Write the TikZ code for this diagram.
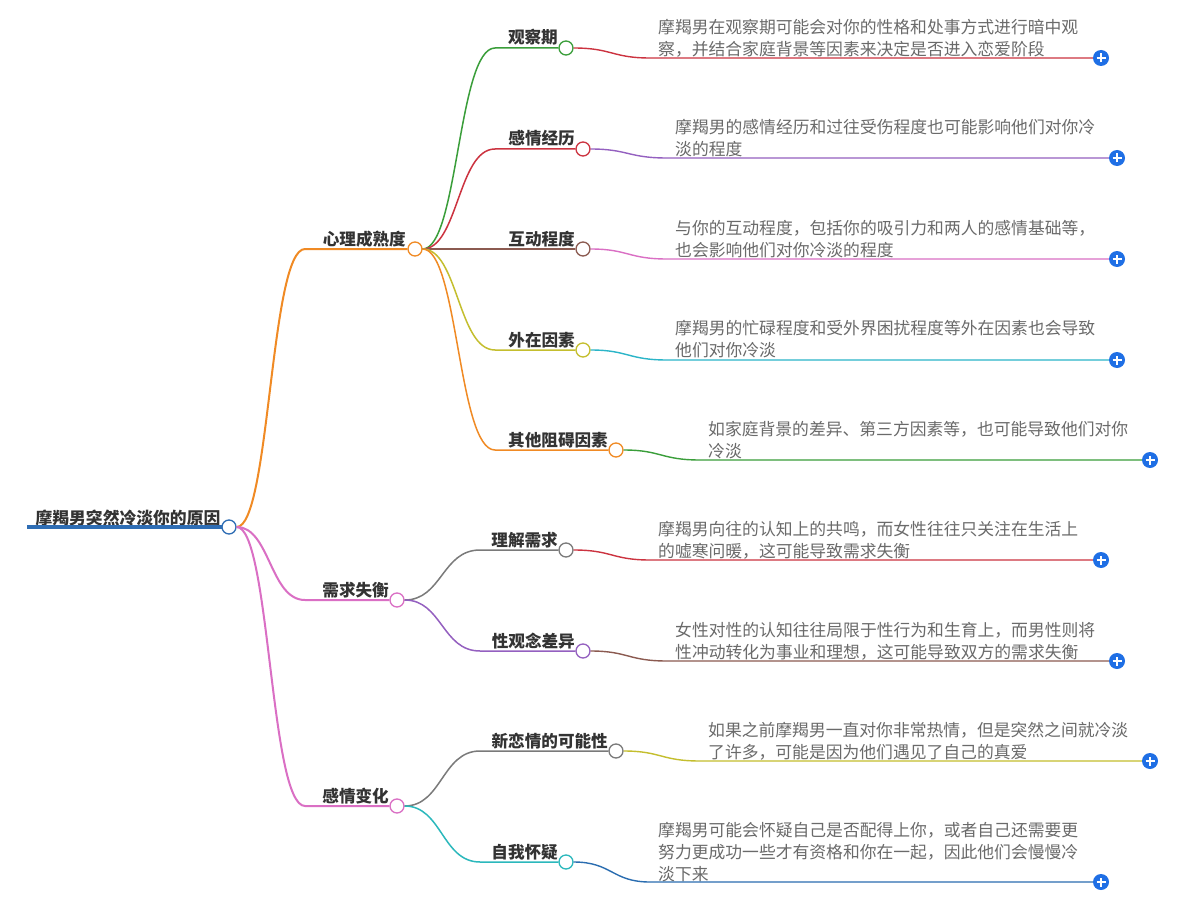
\documentclass[tikz,border=0pt]{standalone}
\usepackage{fontspec}
\newfontfamily\cjk{Noto Sans CJK SC}
\definecolor{orangec}{HTML}{F08A24}
\definecolor{pinkc}{HTML}{DA6FC4}
\definecolor{greenc}{HTML}{3A9E3A}
\definecolor{redc}{HTML}{CC3340}
\definecolor{brownc}{HTML}{8B5A50}
\definecolor{olivec}{HTML}{C4BE2E}
\definecolor{purplec}{HTML}{9460C0}
\definecolor{cyanc}{HTML}{2BB5C8}
\definecolor{grayc}{HTML}{7A7A7A}
\definecolor{tealc}{HTML}{2BB8BC}
\definecolor{dbluec}{HTML}{2A6DB0}
\definecolor{rootc}{HTML}{2E6DB4}
\definecolor{plusc}{HTML}{1F6FE5}
\definecolor{labelc}{HTML}{333333}
\definecolor{leafc}{HTML}{6A6A6A}
\begin{document}
\begin{tikzpicture}[x=1pt,y=-1pt,
  lbl/.style={font=\cjk\bfseries\fontsize{16.6}{20}\selectfont, text=labelc, inner sep=0, anchor=base east},
  leaf/.style={font=\cjk\fontsize{16.8}{22}\selectfont, text=leafc, inner sep=0, anchor=west, align=left},
  dot/.style={circle, fill=white, line width=1.3pt, minimum size=14pt, inner sep=0},
  plusn/.style={circle, fill=plusc, minimum size=16pt, inner sep=0,
    path picture={\draw[white, line width=1.6pt]
      ([xshift=-4.5pt]path picture bounding box.center) -- ([xshift=4.5pt]path picture bounding box.center)
      ([yshift=-4.5pt]path picture bounding box.center) -- ([yshift=4.5pt]path picture bounding box.center);}},
  l1/.style={line width=2pt},
  l2/.style={line width=1.5pt},
  l3/.style={line width=1.4pt}
]
\fill[white] (0,0) rectangle (1194,915);
\useasboundingbox (0,0) rectangle (1194,915);

% root
\coordinate (rootL) at (27,527);
\node[font=\cjk\bfseries\fontsize{16.8}{20}\selectfont, text=labelc, inner sep=0] (root) at (128,518) {摩羯男突然冷淡你的原因};
\draw[rootc, line width=3.5pt] (rootL) -- (222,527);

% level 1 circles
\node[dot, draw=orangec] (a) at (415,249) {};
\node[dot, draw=pinkc] (b) at (397,600) {};
\node[dot, draw=pinkc] (c) at (397,806) {};
\node[lbl] (aT) at (406,245) {心理成熟度};
\node[lbl] (bT) at (389,596) {需求失衡};
\node[lbl] (cT) at (389,802) {感情变化};

% level 2 circles
\node[dot, draw=greenc] (a1) at (566,48) {};
\node[dot, draw=redc] (a2) at (583,149) {};
\node[dot, draw=brownc] (a3) at (583,249) {};
\node[dot, draw=olivec] (a4) at (583,350) {};
\node[dot, draw=orangec] (a5) at (616,450) {};
\node[dot, draw=grayc] (b1) at (566,550) {};
\node[dot, draw=purplec] (b2) at (583,651) {};
\node[dot, draw=grayc] (c1) at (616,751) {};
\node[dot, draw=tealc] (c2) at (566,862) {};

\node[lbl] (a1T) at (558,44) {观察期};
\node[lbl] (a2T) at (575,145) {感情经历};
\node[lbl] (a3T) at (575,245) {互动程度};
\node[lbl] (a4T) at (575,346) {外在因素};
\node[lbl] (a5T) at (608,446) {其他阻碍因素};
\node[lbl] (b1T) at (558,546) {理解需求};
\node[lbl] (b2T) at (575,647) {性观念差异};
\node[lbl] (c1T) at (608,747) {新恋情的可能性};
\node[lbl] (c2T) at (558,858) {自我怀疑};

% plus icons
\node[plusn] (p1) at (1101,58) {};
\node[plusn] (p2) at (1117,158) {};
\node[plusn] (p3) at (1117,259) {};
\node[plusn] (p4) at (1117,360) {};
\node[plusn] (p5) at (1150,460) {};
\node[plusn] (p6) at (1101,560) {};
\node[plusn] (p7) at (1117,661) {};
\node[plusn] (p8) at (1150,761) {};
\node[plusn] (p9) at (1101,882) {};

% leaf texts
\node[leaf] (t1) at (658,38) {摩羯男在观察期可能会对你的性格和处事方式进行暗中观\\察，并结合家庭背景等因素来决定是否进入恋爱阶段};
\node[leaf] (t2) at (675,138.5) {摩羯男的感情经历和过往受伤程度也可能影响他们对你冷\\淡的程度};
\node[leaf] (t3) at (675,239.5) {与你的互动程度，包括你的吸引力和两人的感情基础等，\\也会影响他们对你冷淡的程度};
\node[leaf] (t4) at (675,339.5) {摩羯男的忙碌程度和受外界困扰程度等外在因素也会导致\\他们对你冷淡};
\node[leaf] (t5) at (708,440) {如家庭背景的差异、第三方因素等，也可能导致他们对你\\冷淡};
\node[leaf] (t6) at (658,540.5) {摩羯男向往的认知上的共鸣，而女性往往只关注在生活上\\的嘘寒问暖，这可能导致需求失衡};
\node[leaf] (t7) at (675,641.5) {女性对性的认知往往局限于性行为和生育上，而男性则将\\性冲动转化为事业和理想，这可能导致双方的需求失衡};
\node[leaf] (t8) at (708,741.5) {如果之前摩羯男一直对你非常热情，但是突然之间就冷淡\\了许多，可能是因为他们遇见了自己的真爱};
\node[leaf] (t9) at (658,852) {摩羯男可能会怀疑自己是否配得上你，或者自己还需要更\\努力更成功一些才有资格和你在一起，因此他们会慢慢冷\\淡下来};

\node[dot, draw=rootc] (r) at (229,527) {};

% root -> level 1
\draw[orangec, l1] (r.east) .. controls (270,527) and (270,249) .. (305,249) -- (a.west);
\draw[pinkc, l1] (r.east) .. controls (270,527) and (270,600) .. (305,600) -- (b.west);
\draw[pinkc, l1] (r.east) .. controls (270,527) and (270,806) .. (305,806) -- (c.west);

% level 1 -> level 2
\draw[greenc, l2] (a.east) .. controls (458,249) and (458,48) .. (495,48) -- (a1.west);
\draw[redc, l2] (a.east) .. controls (458,249) and (458,149) .. (495,149) -- (a2.west);
\draw[brownc, l2] (a.east) -- (a3.west);
\draw[olivec, l2] (a.east) .. controls (458,249) and (458,350) .. (495,350) -- (a4.west);
\draw[orangec, l2] (a.east) .. controls (458,249) and (458,450) .. (495,450) -- (a5.west);
\draw[grayc, l2] (b.east) .. controls (442,600) and (442,550) .. (480,550) -- (b1.west);
\draw[purplec, l2] (b.east) .. controls (442,600) and (442,651) .. (480,651) -- (b2.west);
\draw[grayc, l2] (c.east) .. controls (442,806) and (442,751) .. (480,751) -- (c1.west);
\draw[tealc, l2] (c.east) .. controls (442,806) and (442,862) .. (480,862) -- (c2.west);

% level 2 -> leaf lines
\draw[redc, l3] (a1.east) .. controls (612,48) and (612,58) .. (650,58) -- (p1.west);
\draw[purplec, l3] (a2.east) .. controls (628,149) and (628,158) .. (667,158) -- (p2.west);
\draw[pinkc, l3] (a3.east) .. controls (628,249) and (628,259) .. (667,259) -- (p3.west);
\draw[cyanc, l3] (a4.east) .. controls (628,350) and (628,360) .. (667,360) -- (p4.west);
\draw[greenc, l3] (a5.east) .. controls (661,450) and (661,460) .. (700,460) -- (p5.west);
\draw[redc, l3] (b1.east) .. controls (612,550) and (612,560) .. (650,560) -- (p6.west);
\draw[brownc, l3] (b2.east) .. controls (628,651) and (628,661) .. (667,661) -- (p7.west);
\draw[olivec, l3] (c1.east) .. controls (661,751) and (661,761) .. (700,761) -- (p8.west);
\draw[dbluec, l3] (c2.east) .. controls (612,862) and (612,882) .. (650,882) -- (p9.west);
\end{tikzpicture}
\end{document}
